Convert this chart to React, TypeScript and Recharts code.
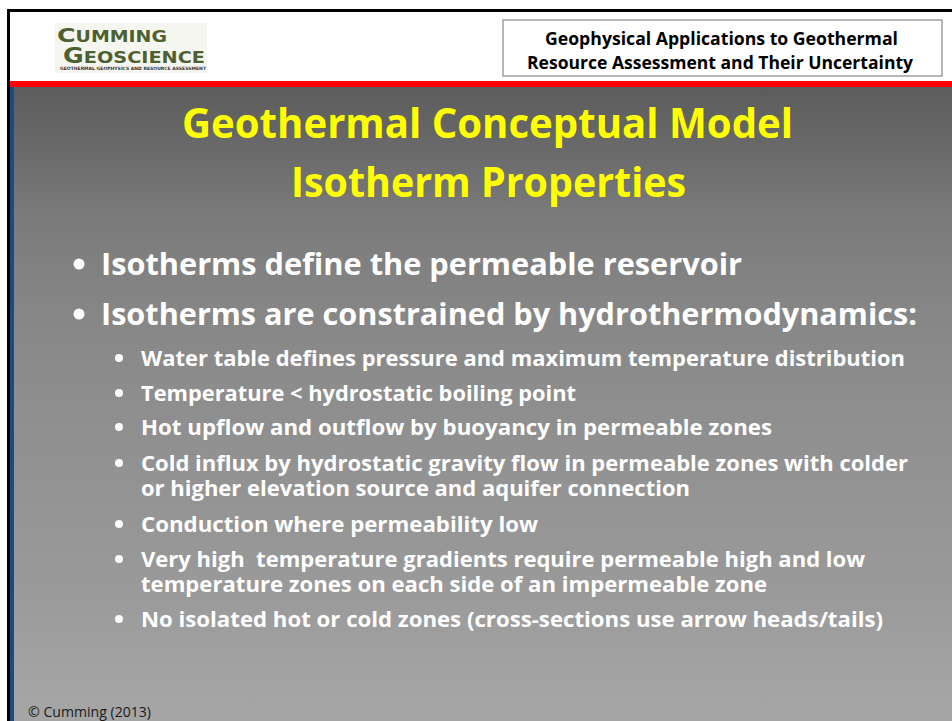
import React from "react";
import { ComposedChart, Customized } from "recharts";

// ---- content ----
const headerLines = [
  "Geophysical Applications to Geothermal",
  "Resource Assessment and Their Uncertainty",
];
const titleLines = ["Geothermal Conceptual Model", "Isotherm Properties"];
const mainBullets = [
  "Isotherms define the permeable reservoir",
  "Isotherms are constrained by hydrothermodynamics:",
];
const subBullets: string[][] = [
  ["Water table defines pressure and maximum temperature distribution"],
  ["Temperature < hydrostatic boiling point"],
  ["Hot upflow and outflow by buoyancy in permeable zones"],
  [
    "Cold influx by hydrostatic gravity flow in permeable zones with colder",
    "or higher elevation source and aquifer connection",
  ],
  ["Conduction where permeability low"],
  [
    "Very high  temperature gradients require permeable high and low",
    "temperature zones on each side of an impermeable zone",
  ],
  ["No isolated hot or cold zones (cross-sections use arrow heads/tails)"],
];
const logoWords = ["CUMMING", "GEOSCIENCE"];
const logoTagline = "GEOTHERMAL GEOPHYSICS AND RESOURCE ASSESSMENT";
const copyright = "\u00A9 Cumming (2013)";

// ---- layout ----
const W = 952;
const H = 721;
const FONT = "'Open Sans', Lato, sans-serif";
const headerLayout = [
  { x0: 545, x1: 898, y: 45 },
  { x0: 527, x1: 913, y: 69 },
];
const titleLayout = [
  { x0: 182, x1: 793, y: 138 },
  { x0: 291, x1: 686, y: 197 },
];
const mainLayout = [
  { x1: 742, y: 275 },
  { x1: 917, y: 325 },
];
const subLayout: { x1: number; y: number }[][] = [
  [{ x1: 905, y: 366 }],
  [{ x1: 576, y: 401 }],
  [{ x1: 772, y: 435 }],
  [
    { x1: 908, y: 471 },
    { x1: 690, y: 496 },
  ],
  [{ x1: 538, y: 532 }],
  [
    { x1: 865, y: 567 },
    { x1: 767, y: 592 },
  ],
  [{ x1: 883, y: 627 }],
];

const Slide = () => (
  <g>
    <defs>
      <linearGradient id="bg" x1="0" y1="0" x2="0" y2="1">
        <stop offset="0" stopColor="#5c5c5c" />
        <stop offset="0.1" stopColor="#6a6a6a" />
        <stop offset="0.2" stopColor="#7a7a7a" />
        <stop offset="0.336" stopColor="#858585" />
        <stop offset="0.478" stopColor="#8d8d8d" />
        <stop offset="0.8" stopColor="#9a9a9a" />
        <stop offset="0.934" stopColor="#a3a3a3" />
        <stop offset="1" stopColor="#a6a6a6" />
      </linearGradient>
    </defs>
    <rect x={0} y={0} width={W} height={H} fill="#ffffff" />
    {/* frame */}
    <rect x={7} y={9} width={W - 7} height={3} fill="#000000" />
    <rect x={7} y={9} width={3} height={H - 9} fill="#000000" />
    {/* red bar */}
    <rect x={10} y={81} width={W - 10} height={6} fill="#ff0000" />
    {/* gradient body */}
    <rect x={10} y={87} width={W - 10} height={H - 87} fill="url(#bg)" />
    <rect x={10} y={87} width={4} height={H - 87} fill="#1f4a7d" />

    {/* logo */}
    <rect x={55} y={23} width={152} height={50} fill="#f6f6f1" />
    <text
      x={57}
      y={42}
      fontFamily="'DejaVu Sans', sans-serif"
      fontWeight="bold"
      fill="#4d6130"
      textLength={110}
      lengthAdjust="spacingAndGlyphs"
    >
      <tspan fontSize={20}>{logoWords[0][0]}</tspan>
      <tspan fontSize={15}>{logoWords[0].slice(1)}</tspan>
    </text>
    <text
      x={63}
      y={63}
      fontFamily="'DejaVu Sans', sans-serif"
      fontWeight="bold"
      fill="#4d6130"
      textLength={142}
      lengthAdjust="spacingAndGlyphs"
    >
      <tspan fontSize={21}>{logoWords[1][0]}</tspan>
      <tspan fontSize={16}>{logoWords[1].slice(1)}</tspan>
    </text>
    <text
      x={60}
      y={70}
      fontFamily="'DejaVu Sans', sans-serif"
      fontWeight="bold"
      fontSize={4.5}
      fill="#333333"
      textLength={146}
      lengthAdjust="spacingAndGlyphs"
    >
      {logoTagline}
    </text>

    {/* header box */}
    <rect x={503} y={20} width={439} height={56} fill="#ffffff" stroke="#6f6f6f" strokeWidth={1} />
    {headerLines.map((t, i) => (
      <text
        key={t}
        x={headerLayout[i].x0}
        y={headerLayout[i].y}
        fontFamily={FONT}
        fontWeight="bold"
        fontSize={17}
        fill="#000000"
        textLength={headerLayout[i].x1 - headerLayout[i].x0}
        lengthAdjust="spacingAndGlyphs"
      >
        {t}
      </text>
    ))}

    {/* title */}
    {titleLines.map((t, i) => (
      <text
        key={t}
        x={titleLayout[i].x0}
        y={titleLayout[i].y}
        fontFamily={FONT}
        fontWeight="bold"
        fontSize={41}
        fill="#ffff00"
        textLength={titleLayout[i].x1 - titleLayout[i].x0}
        lengthAdjust="spacingAndGlyphs"
      >
        {t}
      </text>
    ))}

    {/* main bullets */}
    {mainBullets.map((t, i) => (
      <g key={t}>
        <circle cx={79} cy={mainLayout[i].y - 11} r={5.5} fill="#ffffff" />
        <text
          x={101}
          y={mainLayout[i].y}
          fontFamily={FONT}
          fontWeight="bold"
          fontSize={30}
          fill="#ffffff"
          textLength={mainLayout[i].x1 - 101}
          lengthAdjust="spacingAndGlyphs"
        >
          {t}
        </text>
      </g>
    ))}

    {/* sub bullets */}
    {subBullets.map((lines, i) => (
      <g key={i}>
        <circle cx={119} cy={subLayout[i][0].y - 8} r={4} fill="#ffffff" />
        {lines.map((t, j) => (
          <text
            key={j}
            x={141}
            y={subLayout[i][j].y}
            fontFamily={FONT}
            fontWeight="bold"
            fontSize={22}
            fill="#ffffff"
            style={{ whiteSpace: "pre" }}
            textLength={subLayout[i][j].x1 - 141}
            lengthAdjust="spacingAndGlyphs"
          >
            {t}
          </text>
        ))}
      </g>
    ))}

    {/* footer */}
    <text
      x={28}
      y={717}
      fontFamily={FONT}
      fontSize={15}
      fill="#1a1a1a"
      textLength={123}
      lengthAdjust="spacingAndGlyphs"
    >
      {copyright}
    </text>
  </g>
);

export default function App() {
  return (
    <div style={{ position: "absolute", left: 0, top: 0, width: W, height: H }}>
      <ComposedChart width={W} height={H} data={[]} margin={{ top: 0, right: 0, bottom: 0, left: 0 }}>
        <Customized component={Slide} />
      </ComposedChart>
    </div>
  );
}
